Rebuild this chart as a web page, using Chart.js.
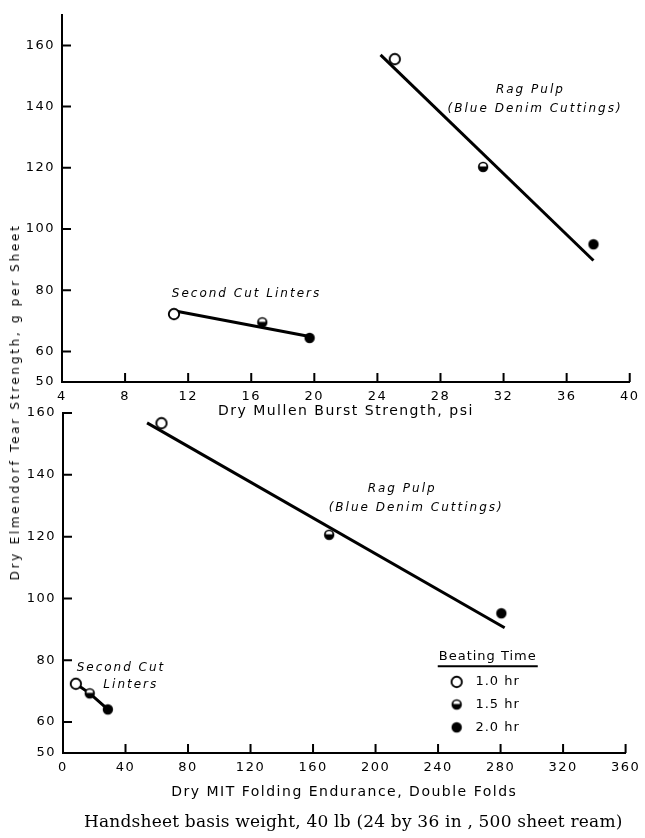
<!DOCTYPE html>
<html>
<head>
<meta charset="utf-8">
<script src="https://cdn.jsdelivr.net/npm/chart.js@4.4.1/dist/chart.umd.min.js"></script>
<style>
  html, body { margin: 0; padding: 0; background: #fff; }
  body { width: 645px; height: 838px; position: relative; overflow: hidden; }
  canvas { position: absolute; left: 0; }
  #burst { top: 0; }
  #fold { top: 395px; }
  #ytitle {
    position: absolute; left: 15px; top: 402px;
    transform: translate(-50%, -50%) rotate(-90deg);
    white-space: nowrap; font: 12px 'DejaVu Sans', sans-serif;
    letter-spacing: 2.7px; color: #000;
  }
  #caption {
    position: absolute; left: 84px; width: 538px; top: 811px;
    text-align: center; white-space: nowrap;
    font: 17px 'DejaVu Serif', serif; letter-spacing: 0.2px; color: #000;
  }
</style>
</head>
<body>
<canvas id="burst" width="645" height="425"></canvas>
<canvas id="fold" width="645" height="410"></canvas>
<div id="ytitle">Dry Elmendorf Tear Strength, g per Sheet</div>
<div id="caption">Handsheet basis weight, 40 lb (24 by 36 in , 500 sheet ream)</div>
<script>
// beating time of each sample (same order in every series)
const beatingTimes = ['1.0 hr', '1.5 hr', '2.0 hr'];

// top panel: tear vs dry Mullen burst
const burstLinters = [11.1, 16.7, 19.7];
const tearLintersTop = [72.2, 69.5, 64.4];
const burstRag = [25.1, 30.7, 37.7];
const tearRagTop = [155.5, 120.3, 95.0];
const burstLintersFit = [11.1, 19.7];
const tearLintersFitTop = [73.3, 64.9];
const burstRagFit = [24.2, 37.7];
const tearRagFitTop = [156.9, 89.7];

// bottom panel: tear vs MIT folding endurance
const foldLinters = [8.2, 17.1, 28.7];
const tearLintersBottom = [72.4, 69.3, 64.1];
const foldRag = [63, 170.3, 280.5];
const tearRagBottom = [156.7, 120.6, 95.2];
const foldRagFit = [53.8, 282.6];
const tearRagFitBottom = [156.8, 90.5];

// tick labels
const burstTicks = [4, 8, 12, 16, 20, 24, 28, 32, 36, 40];
const foldTicks = [0, 40, 80, 120, 160, 200, 240, 280, 320, 360];
const tearTicks = [50, 60, 80, 100, 120, 140, 160];

const ink = '#000';
const tickFont = { family: "'DejaVu Sans', sans-serif", size: 13 };
const titleFont = { family: "'DejaVu Sans', sans-serif", size: 14 };
const noteFont = "italic 12px 'DejaVu Sans', sans-serif";

// open, half filled and filled circles for 1.0 / 1.5 / 2.0 hr
function marker(kind) {
  const c = document.createElement('canvas');
  c.width = c.height = 14;
  const g = c.getContext('2d');
  g.beginPath();
  g.arc(7, 7, 5.2, 0, Math.PI * 2);
  if (kind === 0) {
    g.fillStyle = '#fff';
    g.fill();
    g.lineWidth = 1.9;
    g.strokeStyle = ink;
    g.stroke();
  } else {
    g.fillStyle = ink;
    g.fill();
  }
  if (kind === 1) {
    g.beginPath();
    g.arc(7, 6.6, 3.3, Math.PI, 0);
    g.closePath();
    g.fillStyle = '#fff';
    g.fill();
  }
  return c;
}
const markers = beatingTimes.map((t, i) => marker(i));

function points(xs, ys) {
  return xs.map((x, i) => ({ x: x, y: ys[i] }));
}

function pointSet(xs, ys, line) {
  return {
    data: points(xs, ys),
    pointStyle: markers,
    pointRadius: 5,
    showLine: !!line,
    borderColor: ink,
    borderWidth: 3
  };
}

function lineSet(xs, ys) {
  return {
    data: points(xs, ys),
    showLine: true,
    pointRadius: 0,
    borderColor: ink,
    borderWidth: 3
  };
}

// short tick marks pointing into the plot, and the text notes
const paperPlugin = {
  id: 'paper',
  beforeDraw(chart) {
    chart.ctx.letterSpacing = '1.5px';
  },
  afterDraw(chart) {
    const { ctx, chartArea, scales: { x, y } } = chart;
    ctx.save();
    ctx.strokeStyle = ink;
    ctx.lineWidth = 2;
    ctx.beginPath();
    x.ticks.forEach(t => {
      if (t.value === x.min) return;
      const px = x.getPixelForValue(t.value);
      ctx.moveTo(px, chartArea.bottom);
      ctx.lineTo(px, chartArea.bottom - 9);
    });
    y.ticks.forEach(t => {
      if (t.value === y.min) return;
      const py = y.getPixelForValue(t.value);
      ctx.moveTo(chartArea.left, py);
      ctx.lineTo(chartArea.left + 9, py);
    });
    ctx.stroke();

    const opts = chart.options.plugins.paper || {};
    ctx.fillStyle = ink;
    ctx.font = noteFont;
    ctx.letterSpacing = '2px';
    ctx.textAlign = 'center';
    ctx.textBaseline = 'middle';
    (opts.notes || []).forEach(n => {
      ctx.fillText(n.text, x.getPixelForValue(n.x), y.getPixelForValue(n.y));
    });

    const lg = opts.legend;
    if (lg) {
      ctx.font = "13px 'DejaVu Sans', sans-serif";
      ctx.letterSpacing = '1px';
      const tx = x.getPixelForValue(lg.titleX);
      const ty = y.getPixelForValue(lg.titleY);
      ctx.fillText(lg.title, tx, ty);
      const w = ctx.measureText(lg.title).width;
      ctx.lineWidth = 1.8;
      ctx.beginPath();
      ctx.moveTo(tx - w / 2 - 1, ty + 10);
      ctx.lineTo(tx + w / 2 + 1, ty + 10);
      ctx.stroke();
      ctx.textAlign = 'left';
      ctx.font = "13px 'DejaVu Sans', sans-serif";
      beatingTimes.forEach((t, i) => {
        const ry = y.getPixelForValue(lg.rows[i]);
        const m = markers[i];
        ctx.drawImage(m, x.getPixelForValue(lg.markX) - m.width / 2, ry - m.height / 2);
        ctx.fillText(t, x.getPixelForValue(lg.textX), ry);
      });
    }
    ctx.restore();
  }
};

function axes(xmin, xmax, xticks, xtitle, xHeight, titlePad, ymax, yWidth) {
  return {
    x: {
      type: 'linear', min: xmin, max: xmax,
      afterBuildTicks: s => { s.ticks = xticks.map(v => ({ value: v })); },
      afterFit: s => { s.height = xHeight; },
      grid: { drawOnChartArea: false, drawTicks: false },
      border: { color: ink, width: 2 },
      ticks: { padding: 7, color: ink, font: tickFont, maxRotation: 0 },
      title: { display: true, text: xtitle, color: ink, font: titleFont, padding: { top: 0, bottom: titlePad } }
    },
    y: {
      type: 'linear', min: 50, max: ymax,
      afterBuildTicks: s => { s.ticks = tearTicks.map(v => ({ value: v })); },
      afterFit: s => { s.width = yWidth; },
      grid: { drawOnChartArea: false, drawTicks: false },
      border: { color: ink, width: 2 },
      ticks: { padding: 7, color: ink, font: tickFont }
    }
  };
}

Chart.register(paperPlugin);

new Chart(document.getElementById('burst'), {
  type: 'scatter',
  data: {
    datasets: [
      pointSet(burstLinters, tearLintersTop),
      pointSet(burstRag, tearRagTop),
      lineSet(burstLintersFit, tearLintersFitTop),
      lineSet(burstRagFit, tearRagFitTop)
    ]
  },
  options: {
    responsive: false,
    animation: false,
    layout: { padding: { top: 11, right: 13, left: 0, bottom: 0 } },
    scales: axes(4, 40, burstTicks, 'Dry Mullen Burst Strength, psi', 43, 5, 170, 62),
    plugins: {
      legend: { display: false },
      tooltip: { enabled: false },
      paper: {
        notes: [
          { text: 'Rag Pulp', x: 33.7, y: 145.5 },
          { text: '(Blue Denim Cuttings)', x: 34.0, y: 139.3 },
          { text: 'Second Cut Linters', x: 15.7, y: 78.7 }
        ]
      }
    }
  }
});

new Chart(document.getElementById('fold'), {
  type: 'scatter',
  data: {
    datasets: [
      pointSet(foldLinters, tearLintersBottom, true),
      pointSet(foldRag, tearRagBottom),
      lineSet(foldRagFit, tearRagFitBottom)
    ]
  },
  options: {
    responsive: false,
    animation: false,
    layout: { padding: { top: 18, right: 13, left: 0, bottom: 0 } },
    scales: axes(0, 360, foldTicks, 'Dry MIT Folding Endurance, Double Folds', 52, 4, 160, 63),
    plugins: {
      legend: { display: false },
      tooltip: { enabled: false },
      paper: {
        notes: [
          { text: 'Rag Pulp', x: 217, y: 135.4 },
          { text: '(Blue Denim Cuttings)', x: 226, y: 129.4 },
          { text: 'Second Cut', x: 37.1, y: 77.5 },
          { text: 'Linters', x: 43.4, y: 72.1 }
        ],
        legend: { title: 'Beating Time', titleX: 271.8, titleY: 81.3, markX: 251.9, textX: 263.9, rows: [73.0, 65.7, 58.3] }
      }
    }
  }
});
</script>
</body>
</html>
